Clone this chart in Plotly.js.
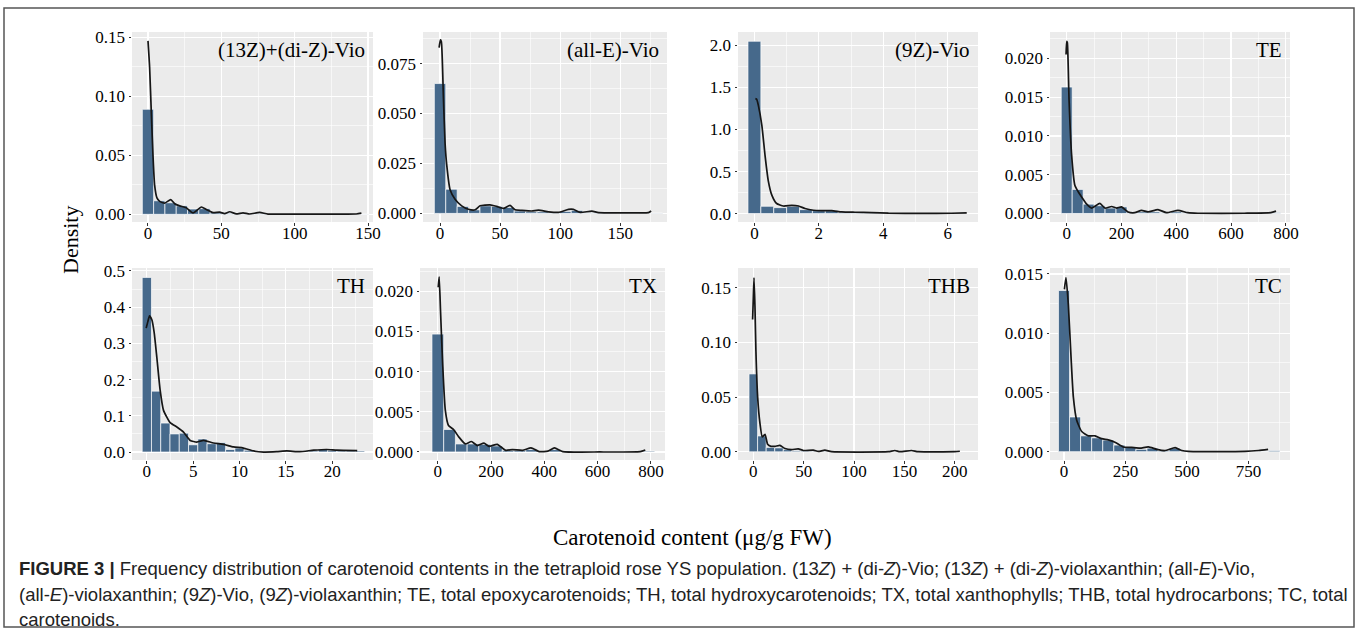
<!DOCTYPE html>
<html>
<head>
<meta charset="utf-8">
<script src="https://cdn.plot.ly/plotly-3.0.1.min.js"></script>
<style>
html,body{margin:0;padding:0;background:#fff;}
#chart{width:1358px;height:631px;}
</style>
</head>
<body>
<div id="chart"></div>
<script>
// ---------------- DATA ----------------
const panelLabels = ["(13Z)+(di-Z)-Vio", "(all-E)-Vio", "(9Z)-Vio", "TE", "TH", "TX", "THB", "TC"];
const binWidths = [7.7, 9.5, 0.4, 40, 1, 44, 8.5, 45];

// histogram densities (bins centred on 0, step = bin width)
const hist13Z = [0.089, 0.0115, 0.0098, 0.0072, 0.0045, 0.0048, 0.0012, 0.0008, 0.0005, 0.0004, 0.0005, 0.0002, 0.0001, 0, 0.0001, 0, 0, 0, 0, 0.0002];
const histAllE = [0.065, 0.0121, 0.0035, 0.0018, 0.0038, 0.0035, 0.003, 0.0012, 0.0008, 0.0008, 0.0004, 0.001, 0.0015, 0.0003, 0.0005, 0.0002, 0.0001, 0, 0.0001, 0.0002];
const hist9Z = [2.05, 0.087, 0.071, 0.087, 0.047, 0.035, 0.035, 0.016, 0.01, 0.01, 0.005, 0.004, 0.002, 0.002, 0.001, 0.002, 0.004];
const histTE = [0.0163, 0.0031, 0.0012, 0.001, 0.0007, 0.00085, 0.0002, 0.0002, 0.0002, 0.0001, 0.0002, 0.0001, 0, 0, 0, 0, 0, 0, 0, 0.0001];
const histTH = [0.482, 0.168, 0.080, 0.050, 0.052, 0.020, 0.036, 0.023, 0.026, 0.007, 0.011, 0.005, 0.001, 0, 0.001, 0.002, 0.001, 0.003, 0.003, 0.007, 0.005, 0.003, 0.003, 0.003];
const histTX = [0.01467, 0.0028, 0.001, 0.001, 0.00095, 0.00075, 0.0002, 0.0002, 0.0003, 0.0001, 0.0003, 0.0001, 0, 0, 0, 0, 0, 0, 0.0001];
const histTHB = [0.0712, 0.0145, 0.004, 0.0036, 0.002, 0.001, 0.0008, 0.0005, 0.0005, 0.0002, 0.0001, 0, 0, 0, 0, 0, 0, 0.0002, 0.0002];
const histTC = [0.0136, 0.00293, 0.00134, 0.00117, 0.00098, 0.00056, 0.00036, 0.0002, 0.0003, 0.0001, 0.0003, 0.00005, 0, 0, 0, 0, 0, 0, 0.00003, 0.0001];

// density curves
const kde13Z_x = [0, 1.1, 2.3, 3.4, 4.5, 6.1, 8, 11.4, 15.5, 18.2, 21.6, 26.1, 30.7, 36.4, 39.8, 44.3, 48.9, 52.3, 55.7, 60.2, 64.8, 69.3, 76.1, 81.8, 98.9, 121.6, 142, 145.5];
const kde13Z_y = [0.147, 0.125, 0.085, 0.05, 0.025, 0.014, 0.011, 0.0095, 0.0125, 0.009, 0.0072, 0.0055, 0.0012, 0.0062, 0.004, 0.0014, 0.0018, 0.0006, 0.0022, 0.0004, 0.0013, 0.0003, 0.0016, 0.0002, 0.0002, 0.0002, 0.0003, 0.001];

const kdeAllE_x = [-0.8, 0.3, 1.1, 2.8, 4.2, 5.6, 8.3, 12.5, 18, 23.6, 29.2, 33.3, 41.7, 47.2, 52.8, 58.3, 62.5, 68, 76.4, 82, 90.3, 98.6, 107, 111, 116.7, 126.4, 132, 160, 173.6, 175.8];
const kdeAllE_y = [0.083, 0.0869, 0.086, 0.058, 0.035, 0.024, 0.012, 0.0071, 0.0038, 0.0021, 0.0018, 0.0038, 0.0043, 0.0035, 0.0025, 0.004, 0.0018, 0.0015, 0.0012, 0.0016, 0.0008, 0.0005, 0.002, 0.002, 0.0005, 0.0011, 0.0004, 0.0003, 0.0004, 0.0012];

const kde9Z_x = [0.03, 0.07, 0.12, 0.23, 0.33, 0.43, 0.54, 0.69, 0.9, 1.16, 1.37, 1.57, 1.83, 2.09, 2.4, 2.71, 3.12, 3.64, 4.16, 5.19, 6.12, 6.59];
const kde9Z_y = [1.37, 1.36, 1.29, 1.05, 0.69, 0.39, 0.22, 0.12, 0.09, 0.098, 0.09, 0.06, 0.04, 0.035, 0.035, 0.02, 0.016, 0.012, 0.005, 0.002, 0.004, 0.008];

const kdeTE_x = [-2.4, 0, 2.4, 8.5, 18, 30, 42, 55, 73, 91, 121, 139, 164, 182, 200, 224, 248, 273, 297, 333, 364, 406, 442, 479, 648, 745, 764];
const kdeTE_y = [0.0205, 0.0222, 0.022, 0.0147, 0.0075, 0.0036, 0.0028, 0.0021, 0.0012, 0.0007, 0.0013, 0.0007, 0.0009, 0.0007, 0.00085, 0.0002, 0.0001, 0.0004, 0.0002, 0.0005, 0.0001, 0.0004, 0.0001, 0.00003, 0.00003, 0.0001, 0.0003];

const kdeTH_x = [-0.07, 0.11, 0.29, 0.54, 0.79, 1.08, 1.44, 1.8, 2.52, 3.24, 3.96, 4.68, 5.4, 6.12, 7.19, 8.27, 9.35, 10.43, 11.5, 12.6, 14, 15.1, 16.5, 18, 19.4, 20.5, 22.7];
const kdeTH_y = [0.342, 0.36, 0.376, 0.365, 0.33, 0.261, 0.17, 0.115, 0.081, 0.069, 0.055, 0.032, 0.0275, 0.032, 0.025, 0.021, 0.014, 0.011, 0.003, 0.0, 0.001, 0.003, 0.001, 0.005, 0.007, 0.005, 0.004];

const kdeTX_x = [1.3, 5, 10, 18, 28, 40, 59, 78, 103, 126, 148, 173, 192, 223, 255, 280, 318, 350, 381, 413, 438, 469, 608, 760, 779];
const kdeTX_y = [0.0205, 0.0218, 0.0176, 0.011, 0.0052, 0.0033, 0.0028, 0.0019, 0.001, 0.0013, 0.0008, 0.0011, 0.0007, 0.00095, 0.0002, 0.0003, 0.0002, 0.0005, 0.00005, 0.0001, 0.0005, 0.00005, 0.0, 0.00005, 0.00025];

const kdeTHB_x = [-0.7, 0, 0.7, 1.65, 2.6, 4.3, 6.6, 8.9, 11.6, 14.2, 17.5, 21.5, 26.4, 31.4, 38, 44.6, 49.6, 59.5, 64.5, 71, 77.7, 134, 140.5, 145.5, 157, 163.6, 200, 205];
const kdeTHB_y = [0.121, 0.14, 0.159, 0.132, 0.092, 0.05, 0.026, 0.0136, 0.016, 0.007, 0.005, 0.005, 0.0058, 0.003, 0.002, 0.0027, 0.0012, 0.0015, 0.0003, 0.0015, 0.0001, 0.0001, 0.0012, 0.0001, 0.0012, 0.0001, 0.0002, 0.0005];

const kdeTC_x = [1.4, 8, 17.6, 28.5, 38, 51.5, 72, 99, 126, 153, 180, 207, 241, 275, 309, 343, 377, 411, 452, 479, 506, 736, 791, 830];
const kdeTC_y = [0.0137, 0.0147, 0.0124, 0.008, 0.0046, 0.00265, 0.0017, 0.00134, 0.00134, 0.0011, 0.001, 0.0008, 0.0004, 0.00036, 0.0003, 0.0004, 0.0002, 0.0001, 0.00034, 0.0001, 0.00002, 0.00002, 0.0001, 0.0002];

// axis tick steps and label formats
const xTickSteps = [50, 50, 2, 200, 5, 200, 50, 250];
const yTickSteps = [0.05, 0.025, 0.5, 0.005, 0.1, 0.005, 0.05, 0.005];
const yTickFormats = [".2f", ".3f", ".1f", ".3f", ".1f", ".3f", ".2f", ".3f"];

const xTitle = "Carotenoid content (μg/g FW)";
const yTitle = "Density";
const captionLines = [
  "<b>FIGURE 3 |</b> Frequency distribution of carotenoid contents in the tetraploid rose YS population. (13<i>Z</i>) + (di-<i>Z</i>)-Vio; (13<i>Z</i>) + (di-<i>Z</i>)-violaxanthin; (all-<i>E</i>)-Vio,",
  "(all-<i>E</i>)-violaxanthin; (9<i>Z</i>)-Vio, (9<i>Z</i>)-violaxanthin; TE, total epoxycarotenoids; TH, total hydroxycarotenoids; TX, total xanthophylls; THB, total hydrocarbons; TC, total",
  "carotenoids."
];

// ---------------- LAYOUT (pixels) ----------------
const W = 1358, H = 631;
const hists = [hist13Z, histAllE, hist9Z, histTE, histTH, histTX, histTHB, histTC];
const kdeXs = [kde13Z_x, kdeAllE_x, kde9Z_x, kdeTE_x, kdeTH_x, kdeTX_x, kdeTHB_x, kdeTC_x];
const kdeYs = [kde13Z_y, kdeAllE_y, kde9Z_y, kdeTE_y, kdeTH_y, kdeTX_y, kdeTHB_y, kdeTC_y];

const panelPx = [
  [132, 373, 32, 222], [423, 667, 32, 222], [738, 978, 32, 222], [1050, 1290, 32, 222],
  [132, 373, 268, 460], [420, 665, 268, 460], [738, 978, 268, 460], [1050, 1290, 268, 460]
];
const xRanges = [[-10.9, 153.4], [-14.2, 189], [-0.51, 6.94], [-61, 815], [-1.6, 24.4], [-67, 853], [-15.2, 223], [-57, 919]];
const yRanges = [[-0.0065, 0.1545], [-0.0043, 0.0908], [-0.1, 2.16], [-0.0011, 0.0234], [-0.022, 0.508], [-0.001, 0.0229], [-0.0075, 0.168], [-0.0007, 0.0155]];

const serif = "Liberation Serif, Times New Roman, serif";
const sans = "Liberation Sans, Arial, Helvetica, sans-serif";
const barColor = "#46698b";

const data = [];
const layout = {
  width: W, height: H,
  margin: {l: 0, r: 0, t: 0, b: 0},
  paper_bgcolor: "#ffffff",
  plot_bgcolor: "#EBEBEB",
  showlegend: false,
  bargap: 0,
  annotations: [],
  shapes: [{
    type: "rect", xref: "paper", yref: "paper",
    x0: 4 / W, x1: 1354 / W, y0: 1 - 627 / H, y1: 1 - 8 / H,
    line: {color: "#555555", width: 1.5}, fillcolor: "rgba(0,0,0,0)", layer: "below"
  }]
};

for (let i = 0; i < 8; i++) {
  const n = i === 0 ? "" : String(i + 1);
  const xa = "x" + n, ya = "y" + n;
  const centers = hists[i].map((_, k) => k * binWidths[i]);
  data.push({
    type: "bar", x: centers, y: hists[i], width: binWidths[i],
    xaxis: xa, yaxis: ya,
    marker: {color: barColor, line: {color: "rgba(255,255,255,0.85)", width: 0.8}},
    hoverinfo: "skip"
  });
  data.push({
    type: "scatter", mode: "lines", x: kdeXs[i], y: kdeYs[i],
    xaxis: xa, yaxis: ya,
    line: {color: "#161616", width: 1.7, shape: "spline", smoothing: 0.5},
    hoverinfo: "skip"
  });
  const p = panelPx[i];
  const common = {
    showgrid: true, gridcolor: "#ffffff", gridwidth: 1.2,
    zeroline: false, showline: false,
    ticks: "outside", ticklen: 2.5, tickwidth: 1, tickcolor: "#333333",
    tickfont: {family: serif, size: 17, color: "#000000"},
    fixedrange: true
  };
  layout["xaxis" + n] = Object.assign({}, common, {
    domain: [p[0] / W, p[1] / W],
    anchor: ya, range: xRanges[i],
    tick0: 0, dtick: xTickSteps[i],
    ticklabelstandoff: -7,
    minor: {tick0: 0, dtick: xTickSteps[i] / 2, showgrid: true, gridcolor: "#ffffff", gridwidth: 0.6}
  });
  layout["yaxis" + n] = Object.assign({}, common, {
    domain: [1 - p[3] / H, 1 - p[2] / H],
    anchor: xa, range: yRanges[i],
    tick0: 0, dtick: yTickSteps[i], tickformat: yTickFormats[i],
    minor: {tick0: 0, dtick: yTickSteps[i] / 2, showgrid: true, gridcolor: "#ffffff", gridwidth: 0.6}
  });
  layout.annotations.push({
    xref: xa + " domain", yref: ya + " domain", x: 1, y: 1,
    xanchor: "right", yanchor: "top", xshift: -6, yshift: -4,
    text: panelLabels[i], showarrow: false,
    font: {family: serif, size: 21, color: "#000000"}
  });
}

layout.annotations.push({
  xref: "paper", yref: "paper", x: 70 / W, y: 1 - 240 / H,
  xanchor: "center", yanchor: "middle", textangle: -90,
  text: yTitle, showarrow: false,
  font: {family: serif, size: 22, color: "#000000"}
});
layout.annotations.push({
  xref: "paper", yref: "paper", x: 692 / W, y: 1 - 537 / H,
  xanchor: "center", yanchor: "middle",
  text: xTitle, showarrow: false,
  font: {family: serif, size: 23, color: "#000000"}
});
const capY = [568, 594, 619];
captionLines.forEach((t, k) => {
  layout.annotations.push({
    xref: "paper", yref: "paper", x: 17 / W, y: 1 - capY[k] / H,
    xanchor: "left", yanchor: "middle", align: "left",
    text: t, showarrow: false,
    font: {family: sans, size: 18.5, color: "#222222"}
  });
});

Plotly.newPlot("chart", data, layout, {staticPlot: true, displayModeBar: false});
</script>
</body>
</html>
